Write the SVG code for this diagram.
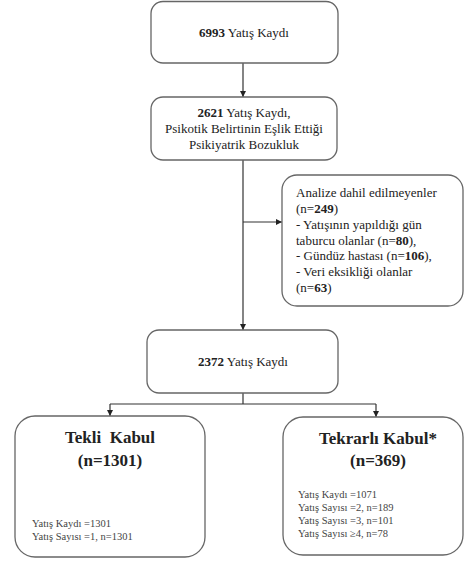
<svg xmlns="http://www.w3.org/2000/svg" width="465" height="563" viewBox="0 0 465 563">
<defs>
<marker id="arr" markerUnits="userSpaceOnUse" markerWidth="7" markerHeight="7" refX="6" refY="3" orient="auto">
<path d="M0,0 L6,3 L0,6 Z" fill="#222"/>
</marker>
<style>
.box{fill:#fff;stroke:#666;stroke-width:1.3}
text{font-family:'Liberation Serif','DejaVu Serif',serif;fill:#222}
.m{font-size:13px}
.s{font-size:10.5px;fill:#444}
.h{font-size:17px;font-weight:bold}
.b{font-weight:bold}
.c{text-anchor:middle}
.ln{stroke:#333;stroke-width:1.2;fill:none}
</style>
</defs>
<rect width="465" height="563" fill="#fff"/>
<g id="connectors">
<line class="ln" x1="243" y1="63" x2="243" y2="97" marker-end="url(#arr)"/>
<line class="ln" x1="243" y1="160" x2="243" y2="330" marker-end="url(#arr)"/>
<line class="ln" x1="243" y1="222" x2="282" y2="222" marker-end="url(#arr)"/>
<line class="ln" x1="243" y1="393" x2="243" y2="404"/>
<line class="ln" x1="110" y1="404" x2="376" y2="404"/>
<line class="ln" x1="110" y1="404" x2="110" y2="416" marker-end="url(#arr)"/>
<line class="ln" x1="376" y1="404" x2="376" y2="417" marker-end="url(#arr)"/>
</g>
<g id="n6993">
<rect class="box" x="151" y="1.5" width="187" height="61.5" rx="12"/>
<text class="m c" x="244" y="37" font-family="Liberation Serif, serif"><tspan class="b">6993</tspan> Yatış Kaydı</text>
</g>
<g id="n2621">
<rect class="box" x="151" y="97" width="186" height="63" rx="12"/>
<text class="m c" x="244" y="117"><tspan class="b">2621</tspan> Yatış Kaydı,</text>
<text class="m c" x="244" y="133">Psikotik Belirtinin Eşlik Ettiği</text>
<text class="m c" x="244" y="149">Psikiyatrik Bozukluk</text>
</g>
<g id="excluded">
<rect class="box" x="282" y="175" width="181" height="131" rx="15"/>
<text class="m" x="296" y="197">Analize dahil edilmeyenler</text>
<text class="m" x="296" y="213">(n=<tspan class="b">249</tspan>)</text>
<text class="m" x="296" y="229">- Yatışının yapıldığı gün</text>
<text class="m" x="296" y="245">taburcu olanlar (n=<tspan class="b">80</tspan>),</text>
<text class="m" x="296" y="260">- Gündüz hastası (n=<tspan class="b">106</tspan>),</text>
<text class="m" x="296" y="276">- Veri eksikliği olanlar</text>
<text class="m" x="296" y="292">(n=<tspan class="b">63</tspan>)</text>
</g>
<g id="n2372">
<rect class="box" x="147" y="330" width="191" height="63" rx="12"/>
<text class="m c" x="243" y="366"><tspan class="b">2372</tspan> Yatış Kaydı</text>
</g>
<g id="tekli">
<rect class="box" x="15" y="416" width="190" height="141" rx="20"/>
<text class="h c" x="110" y="443" style="white-space:pre">Tekli  Kabul</text>
<text class="h c" x="110" y="466">(n=1301)</text>
<text class="s" x="32" y="527">Yatış Kaydı =1301</text>
<text class="s" x="32" y="540">Yatış Sayısı =1, n=1301</text>
</g>
<g id="tekrarli">
<rect class="box" x="283" y="417" width="180" height="138" rx="20"/>
<text class="h c" x="378" y="444">Tekrarlı Kabul*</text>
<text class="h c" x="378" y="466">(n=369)</text>
<text class="s" x="298" y="498">Yatış Kaydı =1071</text>
<text class="s" x="298" y="511">Yatış Sayısı =2, n=189</text>
<text class="s" x="298" y="524">Yatış Sayısı =3, n=101</text>
<text class="s" x="298" y="537">Yatış Sayısı ≥4, n=78</text>
</g>
</svg>
